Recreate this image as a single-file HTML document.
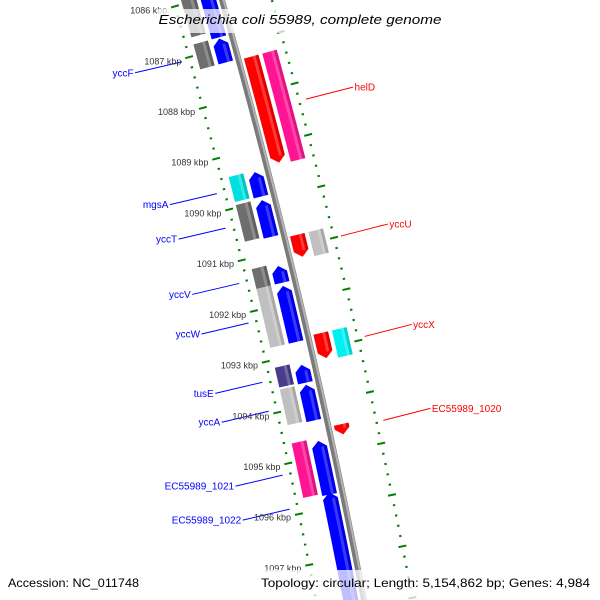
<!DOCTYPE html>
<html><head><meta charset="utf-8"><style>
html,body{margin:0;padding:0;background:#fff;width:600px;height:600px;overflow:hidden;}
svg{display:block;font-family:"Liberation Sans","DejaVu Sans",sans-serif;overflow:hidden;}
</style></head><body>
<svg id="map" width="600" height="600" viewBox="0 0 600 600" xmlns="http://www.w3.org/2000/svg">
<defs><clipPath id="frame"><rect x="0" y="0" width="600" height="600"/></clipPath></defs>
<rect x="0" y="0" width="600" height="600" fill="#fff"/>
<g clip-path="url(#frame)">
<g id="rings"></g>
<g id="backbone"></g>
<g id="features"></g>
<g id="labels"></g>
<g id="ticklabels"></g>
</g>
<rect x="157" y="9" width="289" height="24" fill="#fff" fill-opacity="0.75"/>
<text x="300" y="24" text-anchor="middle" font-size="13" font-style="italic" fill="#000" textLength="283" lengthAdjust="spacingAndGlyphs">Escherichia coli 55989, complete genome</text>
<rect x="2" y="570" width="150" height="30" fill="#fff" fill-opacity="0.75"/>
<text x="8" y="587" font-size="12" fill="#000" textLength="131" lengthAdjust="spacingAndGlyphs">Accession: NC_011748</text>
<rect x="258" y="570" width="342" height="30" fill="#fff" fill-opacity="0.75"/>
<text x="261" y="587" font-size="12" fill="#000" textLength="329" lengthAdjust="spacingAndGlyphs">Topology: circular; Length: 5,154,862 bp; Genes: 4,984</text>
</svg>
<script>
// ---- data ----
const featStart = [1085.5,1086.79,1085.5,1086.81,1087.30,1087.30,1089.40,1089.43,1089.95,1089.98,1090.78,1090.78,1091.21,1091.27,1091.60,1091.66,1092.70,1092.70,1093.15,1093.21,1093.58,1093.60,1094.48,1094.64,1094.70,1095.71];
const featEnd   = [1086.65,1087.28,1086.79,1087.28,1089.37,1089.41,1089.89,1089.91,1090.67,1090.70,1091.21,1091.25,1091.60,1091.60,1092.76,1092.76,1093.19,1093.23,1093.54,1093.56,1094.28,1094.30,1094.68,1095.71,1095.75,1098.0];
const featTrack = [-32,-32,-13,-13,13,32,-32,-13,-32,-13,13,32,-32,-13,-32,-13,13,32,-32,-13,-32,-13,13,-32,-13,-13];
const featDir   = [0,0,-1,-1,1,0,0,-1,0,-1,1,0,0,-1,0,-1,1,0,0,-1,0,-1,1,0,-1,-1];
const featColor = ["#6e6e6e","#6e6e6e","#0000ff","#0000ff","#ff0000","#ff1493","#00e0e0","#0000ff","#6e6e6e","#0000ff","#ff0000","#c0c0c0","#6e6e6e","#0000ff","#c0c0c0","#0000ff","#ff0000","#00f0f0","#483d8b","#0000ff","#c0c0c0","#0000ff","#ff0000","#ff1493","#0000ff","#0000ff"];
const labelNames = ["yccF","helD","mgsA","yccT","yccU","yccV","yccW","yccX","tusE","EC55989_1020","yccA","EC55989_1021","EC55989_1022"];
const labelKbp   = [1087.05,1088.34,1089.65,1090.33,1091.0,1091.42,1092.2,1092.95,1093.37,1094.58,1093.94,1095.2,1095.87];
const labelSide  = [-1,1,-1,-1,1,-1,-1,1,-1,1,-1,-1,-1];
const tickKbp    = [1086,1087,1088,1089,1090,1091,1092,1093,1094,1095,1096,1097];
const tickText   = ["1086 kbp","1087 kbp","1088 kbp","1089 kbp","1090 kbp","1091 kbp","1092 kbp","1093 kbp","1094 kbp","1095 kbp","1096 kbp","1097 kbp"];

// ---- axis geometry ----
const NS="http://www.w3.org/2000/svg";
function B(t){return 222+0.281*t-7.4e-5*t*t;}
function dB(t){return 0.281-1.48e-4*t;}
function tk(k){return 95.8+51.1*(k-1088);}
function P(k,r){const t=tk(k),d=dB(t),n=Math.sqrt(1+d*d);return [B(t)+r/n,t-r*d/n];}
function mk(tag,attrs,parent){const e=document.createElementNS(NS,tag);for(const a in attrs)e.setAttribute(a,attrs[a]);parent.appendChild(e);return e;}
function ptsStr(a){return a.map(p=>p[0].toFixed(2)+","+p[1].toFixed(2)).join(" ");}
function band(ks,ke,r0,r1){const n=Math.max(2,Math.ceil((ke-ks)/0.04));const a=[];for(let i=0;i<=n;i++)a.push(P(ks+(ke-ks)*i/n,r1));for(let i=n;i>=0;i--)a.push(P(ks+(ke-ks)*i/n,r0));return a;}

// rings
const rings=document.getElementById('rings');
[-47,48].forEach(function(rr){
  for(let i=0;i<=140;i++){
    const k=1084.6+i*0.1;
    const isMajor=Math.abs(k-Math.round(k))<0.01;
    const isDot=Math.abs((k*5)-Math.round(k*5))<0.01;
    if(!isMajor&&!isDot)continue;
    const h=isMajor?4:1.2;
    const a=P(k,rr-h),b=P(k,rr+h);
    if(a[1]>605||b[1]>605)continue;
    const ln=mk('line',{x1:a[0],y1:a[1],x2:b[0],y2:b[1],stroke:'#008000','stroke-width':2},rings);
    
    
  }
});

// backbone
const bb=document.getElementById('backbone');
const bpts=[];for(let k=1084;k<=1098.2;k+=0.1)bpts.push(P(k,0));
const bl=mk('polyline',{points:ptsStr(bpts),fill:'none',stroke:'#7a7a7a','stroke-width':6},bb);


const bpts2=[];for(let k=1084;k<=1098.2;k+=0.1)bpts2.push(P(k,1.5));
const bh=mk('polyline',{points:ptsStr(bpts2),fill:'none',stroke:'#b4b4b4','stroke-width':2},bb);



// features
const fg=document.getElementById('features');
const W=15,HEAD=0.12;
for(let i=0;i<featStart.length;i++){
  const ks=featStart[i],ke=featEnd[i],r=featTrack[i],dir=featDir[i],c=featColor[i];
  const h=dir===0?0:Math.min(HEAD,(ke-ks)*0.6);
  let poly;
  if(dir===0){poly=band(ks,ke,r-W/2,r+W/2);}
  else if(dir<0){
    poly=[P(ks,r)].concat(band(ks+h,ke,r-W/2,r+W/2));
  }else{
    const body=band(ks,ke-h,r-W/2,r+W/2);
    const n=body.length/2;
    poly=body.slice(0,n).concat([P(ke,r)]).concat(body.slice(n));
  }
  const g=mk('g',{},fg);
  
  
  mk('polygon',{points:ptsStr(poly),fill:c},g);
  const s0=ks+(dir<0?h:0),s1=ke-(dir>0?h:0);
  const st=mk('polygon',{points:ptsStr(band(s0,s1,r+1.5,r+4.5)),fill:'#fff','fill-opacity':0.22},g);
  
  
  const sd=mk('polygon',{points:ptsStr(band(s0,s1,r+4.5,r+W/2)),fill:'#000','fill-opacity':0.12},g);
  
  
}

// gene labels
const lg=document.getElementById('labels');
for(let i=0;i<labelNames.length;i++){
  const side=labelSide[i];
  const col=side<0?'#0000ff':'#ff0000';
  const a=P(labelKbp[i],55*side);
  const b=[a[0]+47*side,a[1]+(side<0?11:-12)];
  const ln=mk('line',{x1:a[0],y1:a[1],x2:b[0],y2:b[1],stroke:col,'stroke-width':1},lg);
  
  
  const tx=mk('text',{x:b[0]+(side<0?-1.5:1.5),y:b[1]+3.5,'font-size':10,fill:col,'text-anchor':side<0?'end':'start'},lg);
  tx.textContent=labelNames[i];
  
  
}

// tick labels
const tg=document.getElementById('ticklabels');
for(let i=0;i<tickKbp.length;i++){
  const p=P(tickKbp[i],-55);
  const tx=mk('text',{x:p[0],y:p[1]+5,'font-size':9,fill:'#333','text-anchor':'end'},tg);
  tx.textContent=tickText[i];
  
  
}
</script>
</body></html>
